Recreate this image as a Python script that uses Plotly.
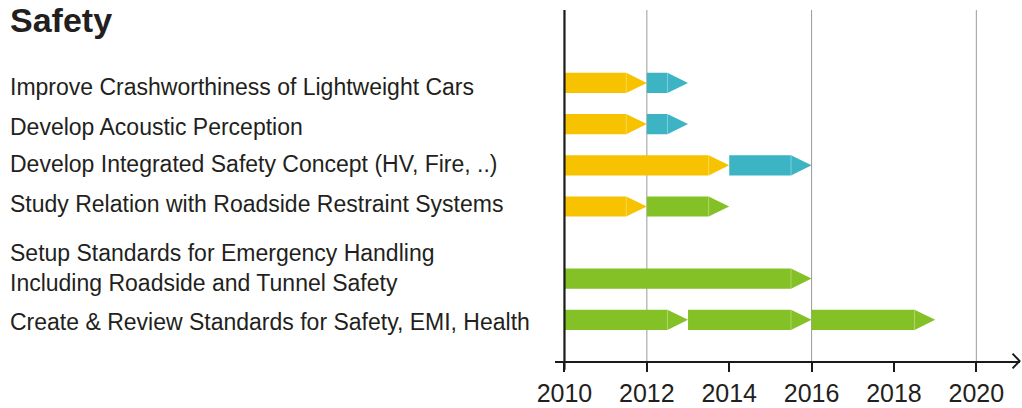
import plotly.graph_objects as go

# ---------------- data ----------------
title_text = "Safety"
task_labels = [
    "Improve Crashworthiness of Lightweight Cars",
    "Develop Acoustic Perception",
    "Develop Integrated Safety Concept (HV, Fire, ..)",
    "Study Relation with Roadside Restraint Systems",
    "Setup Standards for Emergency Handling<br>Including Roadside and Tunnel Safety",
    "Create & Review Standards for Safety, EMI, Health",
]
seg_task = [0, 0, 1, 1, 2, 2, 3, 3, 4, 5, 5, 5]
seg_start = [2010, 2012, 2010, 2012, 2010, 2014, 2010, 2012, 2010, 2010, 2013, 2016]
seg_end = [2012, 2013, 2012, 2013, 2014, 2016, 2012, 2014, 2016, 2013, 2016, 2019]
seg_phase = ["a", "b", "a", "b", "a", "b", "a", "c", "c", "c", "c", "c"]
tick_years = [2010, 2012, 2014, 2016, 2018, 2020]
grid_years = [2012, 2016, 2020]

# ---------------- layout / style ----------------
row_pos = [1, 2, 3, 4, 5.75, 6.75]
label_pos = [1.1, 2.07, 2.98, 3.93, 5.5, 6.8]
phase_color = {"a": "#F7C300", "b": "#3DB4C4", "c": "#84C126"}
half_h = 0.245
tip_len = 0.5

W, H = 1022, 408
ML, MR, MT, MB = 555, 2, 10, 47
x_range = [2009.77, 2021.06]
y_range = [7.75, -0.77]
text_color = "#231F20"
FONT = "Liberation Sans, Arial, sans-serif"

fig = go.Figure()

for t, s, e, p in zip(seg_task, seg_start, seg_end, seg_phase):
    y = row_pos[t]
    body = e - tip_len
    xs = [s, body, e, body, s, s]
    ys = [y - half_h, y - half_h, y, y + half_h, y + half_h, y - half_h]
    fig.add_trace(go.Scatter(
        x=xs, y=ys, mode="lines", fill="toself",
        fillcolor=phase_color[p], line=dict(width=0, color=phase_color[p]),
        hoverinfo="skip", showlegend=False,
    ))
    fig.add_trace(go.Scatter(
        x=[body, body], y=[y - half_h, y + half_h], mode="lines",
        line=dict(width=1, color="rgba(255,255,255,0.35)"),
        hoverinfo="skip", showlegend=False,
    ))

shapes = []
for g in grid_years:
    shapes.append(dict(type="line", xref="x", yref="paper", x0=g, x1=g, y0=0, y1=1,
                       line=dict(color="#9A9A9A", width=1), layer="below"))
shapes.append(dict(type="line", xref="x", yref="paper", x0=tick_years[0], x1=tick_years[0],
                   y0=-0.025, y1=1, line=dict(color="#1A1A1A", width=2.2)))
shapes.append(dict(type="path", xref="paper", yref="paper",
                   path="M 0.984 0.021 L 0.999 0 L 0.984 -0.021",
                   line=dict(color="#1A1A1A", width=2)))

annotations = []
plot_w = W - ML - MR
plot_h = H - MT - MB
x_label = (8 - ML) / plot_w
for lbl, ly in zip(task_labels, label_pos):
    annotations.append(dict(
        text=lbl, xref="paper", yref="y", x=x_label, y=ly,
        xanchor="left", yanchor="middle", align="left", showarrow=False,
        font=dict(size=23, color=text_color, family=FONT),
    ))
annotations.append(dict(
    text="<b>" + title_text + "</b>", xref="paper", yref="paper",
    x=(8 - ML) / plot_w, y=1 + (MT - 20) / plot_h,
    xanchor="left", yanchor="middle", showarrow=False,
    font=dict(size=34, color=text_color, family=FONT),
))

fig.update_layout(
    width=W, height=H,
    margin=dict(l=ML, r=MR, t=MT, b=MB),
    paper_bgcolor="white", plot_bgcolor="white",
    shapes=shapes, annotations=annotations,
    xaxis=dict(
        range=x_range, tickvals=tick_years, ticktext=[str(v) for v in tick_years],
        showgrid=False, zeroline=False, showline=True, linecolor="#1A1A1A", linewidth=2,
        ticks="outside", ticklen=9, tickwidth=2, tickcolor="#1A1A1A",
        tickfont=dict(size=25, color=text_color, family=FONT),
        fixedrange=True,
    ),
    yaxis=dict(range=y_range, visible=False, showgrid=False, zeroline=False, fixedrange=True),
)

fig.write_html(
    "out.html",
    config={"displayModeBar": False, "staticPlot": True},
    post_script="document.body.style.margin='0';document.body.style.overflow='hidden';",
)
